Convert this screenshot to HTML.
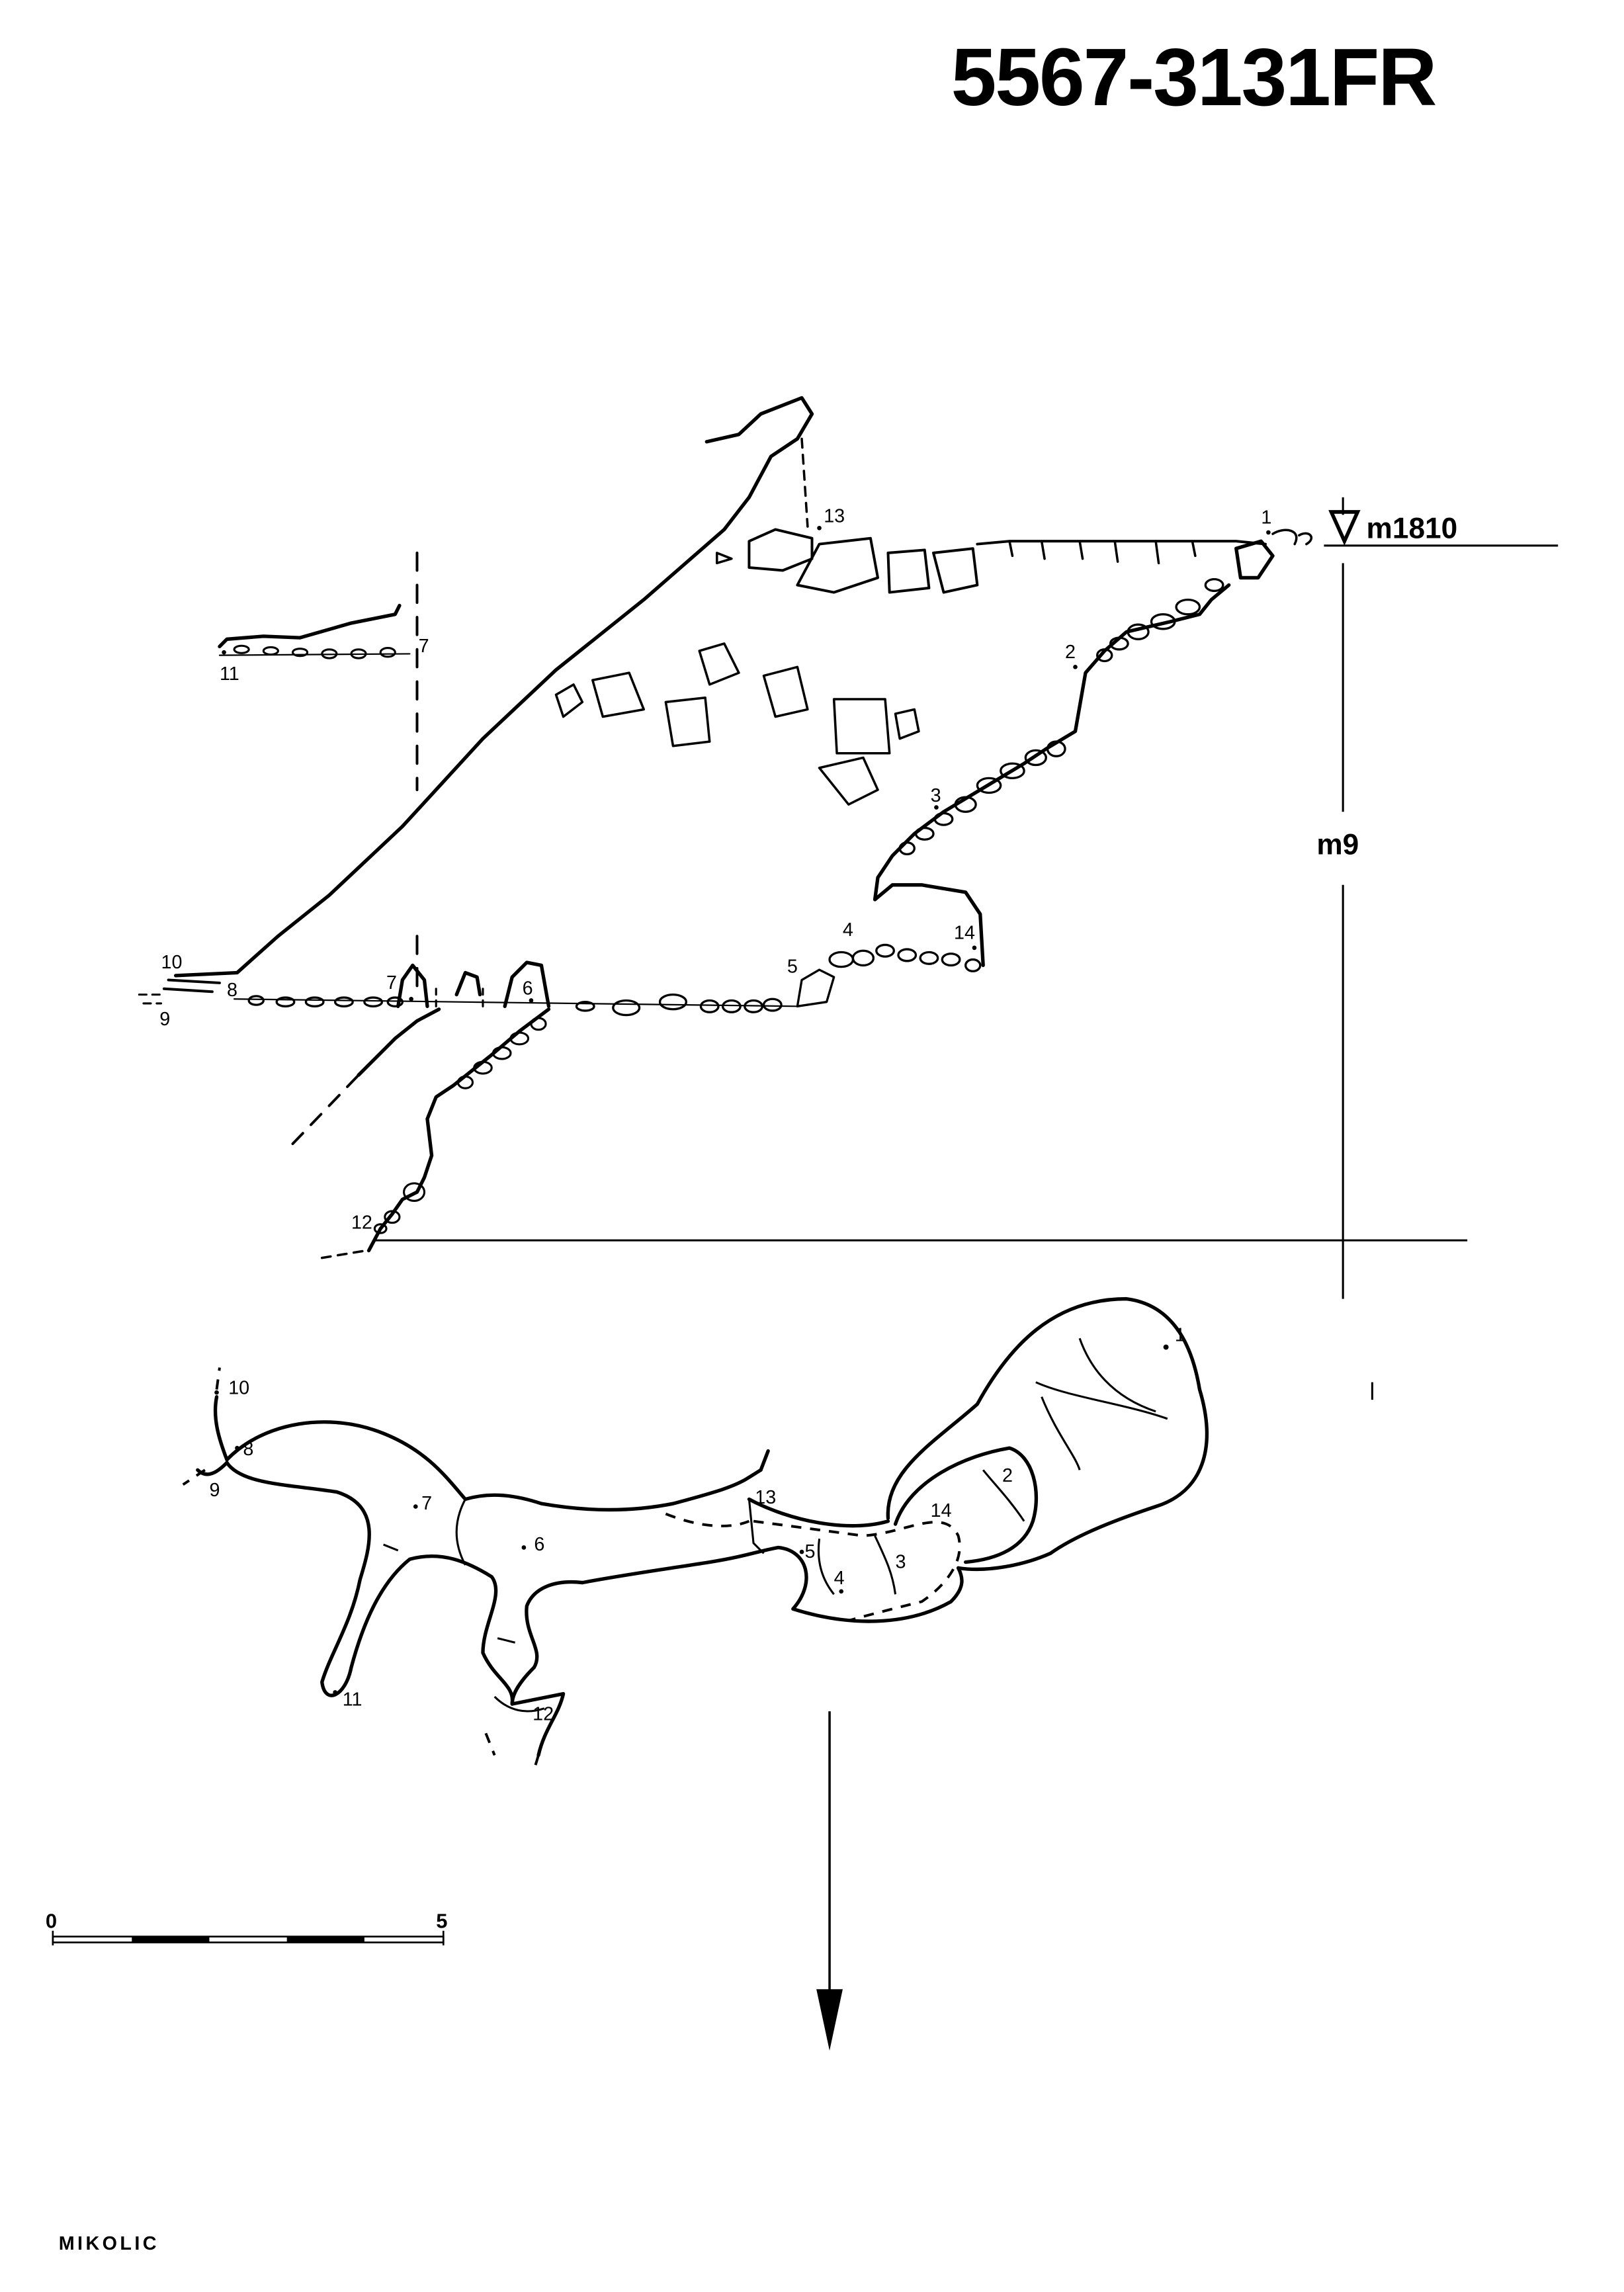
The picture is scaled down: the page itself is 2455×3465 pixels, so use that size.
<!DOCTYPE html>
<html><head><meta charset="utf-8"><style>
html,body{margin:0;padding:0;background:#fff;}
svg{display:block;}
text{font-family:"Liberation Sans",sans-serif;fill:#000;}
</style></head><body>
<svg width="2455" height="3465" viewBox="0 0 1110 1567" xmlns="http://www.w3.org/2000/svg">
<rect width="1110" height="1567" fill="#fff"/>
<text x="650" y="72" font-size="56" font-weight="bold" letter-spacing="-1">5567-3131FR</text>

<g fill="none" stroke="#000" stroke-width="2.4" stroke-linejoin="round" stroke-linecap="round">
<!-- profile: left wall -->
<path d="M483,302 L505,297 L520,283 L548,272 L555,283 L545,300 L527,312 L512,340 L495,362 L440,410 L380,458 L330,505 L275,565 L225,612 L190,640 L162,665 L120,667"/>
<path d="M548,300 L552,360" stroke-dasharray="6,5" stroke-width="1.6"/>
<!-- ceiling blocks -->
<path d="M490,378 L500,382 L490,385 Z" stroke-width="1.6"/>
<path d="M512,370 L530,362 L555,368 L555,382 L535,390 L512,388 Z" stroke-width="1.8"/>
<path d="M545,400 L560,372 L595,368 L600,395 L570,405 Z" stroke-width="1.8"/>
<path d="M607,378 L632,376 L635,402 L608,405 Z" stroke-width="1.8"/>
<path d="M638,378 L665,375 L668,400 L645,405 Z" stroke-width="1.8"/>
<path d="M668,372 L690,370 L712,370 L738,370 L762,370 L790,370 L815,370 L845,370 L865,372" stroke-width="1.8"/>
<path d="M690,370 L692,380 M712,370 L714,382 M738,370 L740,382 M762,370 L764,384 M790,370 L792,385 M815,370 L817,380" stroke-width="1.6"/>
<!-- fallen blocks -->
<path d="M380,475 L392,468 L398,480 L385,490 Z" stroke-width="1.6"/>
<path d="M405,465 L430,460 L440,485 L412,490 Z" stroke-width="1.6"/>
<path d="M478,445 L495,440 L505,460 L485,468 Z" stroke-width="1.6"/>
<path d="M522,462 L545,456 L552,485 L530,490 Z" stroke-width="1.6"/>
<path d="M455,480 L482,477 L485,507 L460,510 Z" stroke-width="1.6"/>
<path d="M570,478 L605,478 L608,515 L572,515 Z" stroke-width="1.6"/>
<path d="M612,488 L625,485 L628,500 L615,505 Z" stroke-width="1.6"/>
<path d="M560,525 L590,518 L600,540 L580,550 Z" stroke-width="1.6"/>
<!-- right wall -->
<path d="M845,375 L862,370 L870,380 L860,395 L848,395 Z"/>
<path d="M840,400 L828,410 L820,420 L800,425 L770,432 L755,445 L742,460 L735,500 L715,512 L700,522 L670,540 L645,555 L625,570 L610,585 L600,600 L598,615 L610,605 L630,605 L660,610 L670,625 L672,660"/>
<path d="M870,365 C878,360 890,362 885,372 M888,366 C895,362 900,368 893,372" stroke-width="1.6"/>
<!-- right wall stones -->
<g stroke-width="1.5">
<ellipse cx="830" cy="400" rx="6" ry="4"/><ellipse cx="812" cy="415" rx="8" ry="5"/><ellipse cx="795" cy="425" rx="8" ry="5"/><ellipse cx="778" cy="432" rx="7" ry="5"/><ellipse cx="765" cy="440" rx="6" ry="4"/><ellipse cx="755" cy="448" rx="5" ry="4"/>
<ellipse cx="722" cy="512" rx="6" ry="5"/><ellipse cx="708" cy="518" rx="7" ry="5"/><ellipse cx="692" cy="527" rx="8" ry="5"/><ellipse cx="676" cy="537" rx="8" ry="5"/><ellipse cx="660" cy="550" rx="7" ry="5"/><ellipse cx="645" cy="560" rx="6" ry="4"/><ellipse cx="632" cy="570" rx="6" ry="4"/><ellipse cx="620" cy="580" rx="5" ry="4"/>
</g>
<!-- floor -->
<path d="M160,683 L545,688" stroke-width="1"/>
<g stroke-width="1.5">
<ellipse cx="175" cy="684" rx="5" ry="3"/><ellipse cx="195" cy="685" rx="6" ry="3"/><ellipse cx="215" cy="685" rx="6" ry="3"/><ellipse cx="235" cy="685" rx="6" ry="3"/><ellipse cx="255" cy="685" rx="6" ry="3"/><ellipse cx="270" cy="685" rx="5" ry="3"/>
<ellipse cx="400" cy="688" rx="6" ry="3"/><ellipse cx="428" cy="689" rx="9" ry="5"/><ellipse cx="460" cy="685" rx="9" ry="5"/><ellipse cx="485" cy="688" rx="6" ry="4"/><ellipse cx="500" cy="688" rx="6" ry="4"/><ellipse cx="515" cy="688" rx="6" ry="4"/><ellipse cx="528" cy="687" rx="6" ry="4"/>
<path d="M545,688 L548,670 L560,663 L570,668 L565,685 Z"/>
<ellipse cx="575" cy="656" rx="8" ry="5"/><ellipse cx="590" cy="655" rx="7" ry="5"/><ellipse cx="605" cy="650" rx="6" ry="4"/><ellipse cx="620" cy="653" rx="6" ry="4"/><ellipse cx="635" cy="655" rx="6" ry="4"/><ellipse cx="650" cy="656" rx="6" ry="4"/><ellipse cx="665" cy="660" rx="5" ry="4"/>
</g>
<!-- stalagmites -->
<path d="M272,688 L275,670 L282,660 L290,670 L292,688"/>
<path d="M312,680 L318,665 L326,668 L328,680"/>
<path d="M345,688 L350,668 L360,658 L370,660 L375,688"/>
<path d="M298,688 L298,672 M330,688 L330,672" stroke-dasharray="4,4" stroke-width="1.4"/>
<!-- left small passages -->
<path d="M150,442 L155,437 L180,435 L205,436 L240,426 L270,420 L273,414"/>
<g stroke-width="1.4"><ellipse cx="165" cy="444" rx="5" ry="2.5"/><ellipse cx="185" cy="445" rx="5" ry="2.5"/><ellipse cx="205" cy="446" rx="5" ry="2.5"/><ellipse cx="225" cy="447" rx="5" ry="3"/><ellipse cx="245" cy="447" rx="5" ry="3"/><ellipse cx="265" cy="446" rx="5" ry="3"/></g>
<path d="M150,448 L280,447" stroke-width="1"/>
<path d="M285,378 L285,540 M285,640 L285,680" stroke-dasharray="12,10" stroke-width="1.8"/>
<path d="M115,670 L150,672 M112,676 L145,678" stroke-width="1.8"/>
<path d="M95,680 L110,680 M98,686 L110,686" stroke-dasharray="5,4" stroke-width="1.4"/>
<!-- lower passage -->
<path d="M245,735 L270,710 L285,698 L300,690"/>
<path d="M200,782 L245,735" stroke-dasharray="10,8" stroke-width="1.8"/>
<path d="M375,690 L355,705 L335,722 L310,742 L298,750 L292,765 L295,790 L290,805 L285,815 L275,820 L268,830 L260,840 L252,855"/>
<g stroke-width="1.4"><ellipse cx="368" cy="700" rx="5" ry="4"/><ellipse cx="355" cy="710" rx="6" ry="4"/><ellipse cx="343" cy="720" rx="6" ry="4"/><ellipse cx="330" cy="730" rx="6" ry="4"/><ellipse cx="318" cy="740" rx="5" ry="4"/><ellipse cx="283" cy="815" rx="7" ry="6"/><ellipse cx="268" cy="832" rx="5" ry="4"/><ellipse cx="260" cy="840" rx="4" ry="3"/></g>
<path d="M220,860 L250,855" stroke-dasharray="6,5" stroke-width="1.6"/>
</g>

<!-- survey lines -->
<g stroke="#000" stroke-width="1.4" fill="none">
<path d="M905,373 L1065,373"/>
<path d="M918,385 L918,555 M918,605 L918,888"/>
<path d="M255,848 L1003,848"/>
<path d="M918,340 L918,352"/>
<path d="M938,945 L938,957"/>
</g>
<path d="M910,350 L928,350 L919,370 Z" fill="none" stroke="#000" stroke-width="2.5"/>
<text x="934" y="368" font-size="20" font-weight="bold">m1810</text>
<text x="900" y="584" font-size="20" font-weight="bold">m9</text>

<!-- profile labels -->
<g font-size="13">
<text x="862" y="358">1</text><text x="728" y="450">2</text><text x="636" y="548">3</text><text x="576" y="640">4</text><text x="538" y="665">5</text>
<text x="357" y="680">6</text><text x="264" y="676">7</text><text x="286" y="446">7</text><text x="155" y="681">8</text><text x="109" y="701">9</text>
<text x="110" y="662">10</text><text x="150" y="465">11</text><text x="240" y="840">12</text><text x="563" y="357">13</text><text x="652" y="642">14</text>
</g>

<!-- plan -->
<g fill="none" stroke="#000" stroke-width="2.4" stroke-linejoin="round" stroke-linecap="round">
<path d="M607,1038 C605,1005 640,985 668,960 C690,920 720,888 770,888 C802,892 815,920 820,950 C832,990 822,1020 790,1030 C760,1040 735,1050 718,1062 C700,1070 675,1075 655,1072"/>
<path d="M612,1042 C622,1012 660,995 690,990 C706,995 712,1020 706,1040 C700,1058 682,1066 660,1068"/>
<path d="M155,998 C180,972 225,965 262,980 C292,992 305,1010 318,1025 C335,1020 352,1022 370,1028 C410,1035 440,1032 460,1028 C490,1020 503,1016 512,1010 L520,1005"/>
<path d="M512,1025 C540,1040 580,1048 607,1040"/>
<path d="M398,1082 C430,1076 460,1072 485,1068 C510,1064 520,1060 532,1058 C552,1060 558,1082 542,1100 C580,1112 620,1112 650,1095 C660,1085 658,1078 655,1072"/>
<path d="M155,1000 C165,1015 198,1015 230,1020 C262,1030 252,1060 246,1080 C240,1110 226,1130 220,1150 C222,1166 236,1160 240,1140 C248,1110 260,1082 280,1066 C302,1060 320,1068 336,1078 C345,1090 330,1110 330,1130 C338,1148 352,1152 350,1165 L385,1158 C382,1172 372,1182 368,1200"/>
<path d="M398,1082 C380,1080 365,1085 360,1098 C358,1118 372,1128 365,1140 C355,1150 350,1158 350,1165"/>
<path d="M155,998 C150,985 145,970 148,955 M155,1000 C150,1005 142,1012 135,1005"/>
<path d="M520,1005 L525,992"/>
</g>
<g fill="none" stroke="#000" stroke-width="1.4">
<path d="M708,945 C730,955 770,960 798,970 M738,915 C745,935 760,955 790,965 M712,955 C722,980 735,995 738,1005"/>
<path d="M672,1005 C680,1015 690,1025 700,1040"/>
<path d="M318,1025 C310,1040 310,1055 318,1070"/>
<path d="M512,1025 L515,1055 L522,1062"/>
<path d="M598,1050 C605,1065 610,1075 612,1090 M560,1052 C558,1068 562,1080 570,1090"/>
<path d="M262,1056 L272,1060 M340,1120 L352,1123 M338,1160 C348,1170 360,1172 372,1168"/>
</g>
<g fill="none" stroke="#000" stroke-width="1.8" stroke-dasharray="7,6">
<path d="M455,1035 C480,1045 500,1045 512,1040 M515,1040 L590,1050 C620,1048 645,1030 655,1050 C660,1068 645,1085 630,1095 C610,1100 590,1105 580,1108"/>
<path d="M148,950 L150,935 M140,1005 L125,1015"/>
<path d="M332,1185 L338,1200 M368,1200 L365,1210"/>
</g>
<g font-size="13">
<text x="803" y="917">1</text><text x="685" y="1013">2</text><text x="612" y="1072">3</text><text x="570" y="1083">4</text><text x="550" y="1065">5</text>
<text x="365" y="1060">6</text><text x="288" y="1032">7</text><text x="166" y="995">8</text><text x="143" y="1023">9</text><text x="156" y="953">10</text>
<text x="234" y="1166">11</text><text x="364" y="1176">12</text><text x="516" y="1028">13</text><text x="636" y="1037">14</text>
</g>
<g fill="#000"><circle cx="797" cy="921" r="1.8"/><circle cx="548" cy="1061" r="1.5"/><circle cx="575" cy="1088" r="1.5"/><circle cx="358" cy="1058" r="1.5"/><circle cx="284" cy="1030" r="1.5"/><circle cx="229" cy="1157" r="1.5"/><circle cx="148" cy="952" r="1.5"/><circle cx="162" cy="990" r="1.5"/>
<circle cx="867" cy="364" r="1.5"/><circle cx="735" cy="456" r="1.5"/><circle cx="640" cy="552" r="1.5"/><circle cx="560" cy="361" r="1.5"/><circle cx="153" cy="446" r="1.5"/><circle cx="281" cy="683" r="1.5"/><circle cx="363" cy="684" r="1.5"/><circle cx="666" cy="648" r="1.5"/></g>

<!-- north arrow -->
<path d="M567,1170 L567,1370" stroke="#000" stroke-width="1.6"/>
<path d="M558,1360 L576,1360 L567,1402 Z" fill="#000"/>

<!-- scale -->
<g stroke="#000" stroke-width="1.2" fill="none">
<path d="M36,1320 L36,1330 M303,1320 L303,1330"/>
<rect x="36" y="1324" width="267" height="4"/>
</g>
<rect x="90" y="1324" width="53" height="4" fill="#000"/>
<rect x="196" y="1324" width="53" height="4" fill="#000"/>
<text x="31" y="1318" font-size="14" font-weight="bold">0</text>
<text x="298" y="1318" font-size="14" font-weight="bold">5</text>
<text x="40" y="1538" font-size="13" font-weight="bold" letter-spacing="2">MIKOLIC</text>
</svg>
</body></html>
